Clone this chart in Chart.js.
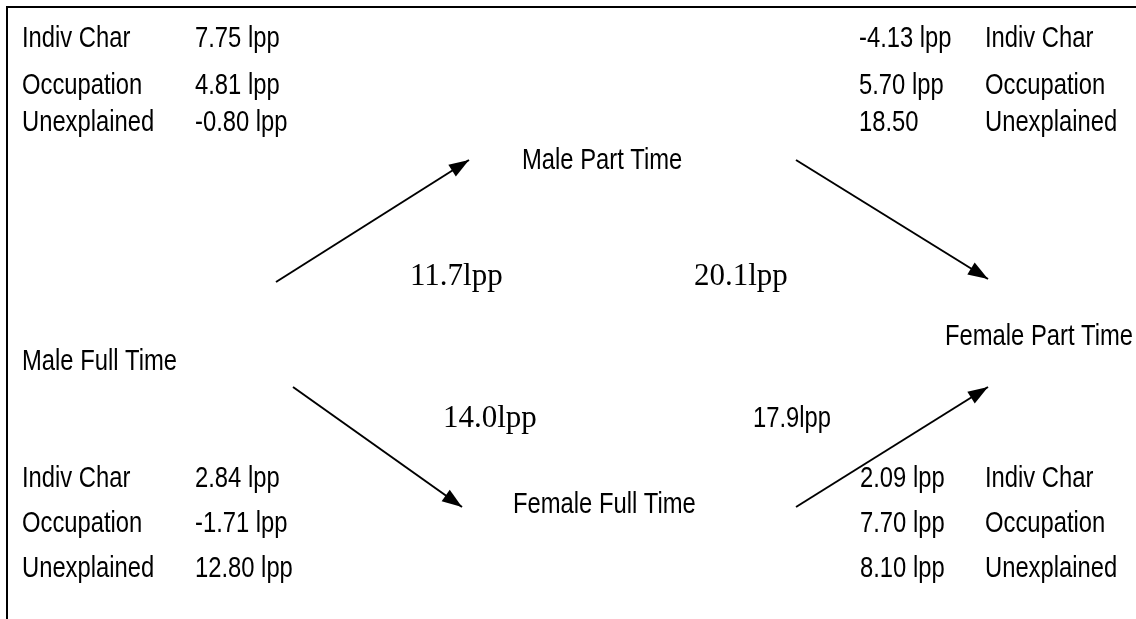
<!DOCTYPE html>
<html>
<head>
<meta charset="utf-8">
<script src="https://cdn.jsdelivr.net/npm/chart.js@4/dist/chart.umd.min.js"></script>
<style>
  html, body { margin: 0; padding: 0; background: #fff; }
  #wrap { width: 1136px; height: 619px; position: relative; }
</style>
</head>
<body>
<div id="wrap"><canvas id="myChart"></canvas></div>
<script>
// decomposition of the gap along each path
const components = ['Indiv Char', 'Occupation', 'Unexplained'];
const mftToMpt = ['7.75 lpp', '4.81 lpp', '-0.80 lpp'];
const mptToFpt = ['-4.13 lpp', '5.70 lpp', '18.50'];
const mftToFft = ['2.84 lpp', '-1.71 lpp', '12.80 lpp'];
const fftToFpt = ['2.09 lpp', '7.70 lpp', '8.10 lpp'];

const nodes = ['Male Full Time', 'Male Part Time', 'Female Full Time', 'Female Part Time'];
const gaps = ['11.7lpp', '20.1lpp', '14.0lpp', '17.9lpp'];

// layout, in a 1136 x 619 coordinate space
const nodePos = [[22, 370], [522, 169], [513, 513], [945, 345]];
const gapPos = [[410, 285], [694, 285], [443, 427], [753, 427]];
const gapSerif = [true, true, true, false];
const arrowFrom = [[276, 282], [293, 387], [796, 160], [796, 507]];
const arrowTo = [[469, 160], [462, 507], [988, 279], [988, 387]];
const frame = [[7, 619], [7, 7], [1136, 7]];

// tables: [component column x, value column x, row baselines, values]
const tables = [
    { labelX: 22, valueX: 195, rows: [47, 94, 131], values: mftToMpt },
    { labelX: 985, valueX: 859, rows: [47, 94, 131], values: mptToFpt },
    { labelX: 22, valueX: 195, rows: [487, 532, 577], values: mftToFft },
    { labelX: 985, valueX: 860, rows: [487, 532, 577], values: fftToFpt },
];

const toPts = arr => arr.map(p => ({ x: p[0], y: p[1] }));

const datasets = arrowFrom.map((f, i) => ({
    data: toPts([f, arrowTo[i]]),
    showLine: true,
    borderColor: '#000',
    borderWidth: 2,
    pointRadius: 0,
    fill: false,
}));
datasets.push({
    data: toPts(frame),
    showLine: true,
    borderColor: '#000',
    borderWidth: 2,
    pointRadius: 0,
    fill: false,
});

const SANS = '29px "Liberation Sans", Arial, sans-serif';
const SERIF = '31px "Liberation Serif", "Times New Roman", serif';

function sansText(ctx, text, x, y) {
    ctx.save();
    ctx.font = SANS;
    ctx.translate(x, y);
    ctx.scale(0.82, 1);
    ctx.fillText(text, 0, 0);
    ctx.restore();
}

const diagramPlugin = {
    id: 'diagram',
    afterDatasetsDraw(chart) {
        const ctx = chart.ctx;
        const sx = chart.scales.x, sy = chart.scales.y;
        const px = v => sx.getPixelForValue(v);
        const py = v => sy.getPixelForValue(v);

        ctx.save();
        ctx.fillStyle = '#000';
        ctx.textBaseline = 'alphabetic';
        ctx.textAlign = 'left';

        // arrow heads
        arrowFrom.forEach((f, i) => {
            const x0 = px(f[0]), y0 = py(f[1]);
            const x1 = px(arrowTo[i][0]), y1 = py(arrowTo[i][1]);
            const a = Math.atan2(y1 - y0, x1 - x0);
            const len = 20, half = 7;
            const bx = x1 - len * Math.cos(a), by = y1 - len * Math.sin(a);
            ctx.beginPath();
            ctx.moveTo(x1, y1);
            ctx.lineTo(bx + half * Math.sin(a), by - half * Math.cos(a));
            ctx.lineTo(bx - half * Math.sin(a), by + half * Math.cos(a));
            ctx.closePath();
            ctx.fill();
        });

        nodes.forEach((n, i) => sansText(ctx, n, px(nodePos[i][0]), py(nodePos[i][1])));

        gaps.forEach((g, i) => {
            if (gapSerif[i]) {
                ctx.font = SERIF;
                ctx.fillText(g, px(gapPos[i][0]), py(gapPos[i][1]));
            } else {
                sansText(ctx, g, px(gapPos[i][0]), py(gapPos[i][1]));
            }
        });

        tables.forEach(t => {
            t.rows.forEach((ry, r) => {
                sansText(ctx, components[r], px(t.labelX), py(ry));
                sansText(ctx, t.values[r], px(t.valueX), py(ry));
            });
        });
        ctx.restore();
    }
};

const ctx = document.getElementById('myChart').getContext('2d');
const myChart = new Chart(ctx, {
    type: 'scatter',
    data: { datasets: datasets },
    options: {
        responsive: true,
        maintainAspectRatio: false,
        animation: false,
        layout: { padding: 0 },
        plugins: { legend: { display: false }, tooltip: { enabled: false } },
        scales: {
            x: { type: 'linear', min: 0, max: 1136, display: false },
            y: { type: 'linear', min: 0, max: 619, reverse: true, display: false },
        },
    },
    plugins: [diagramPlugin],
});
</script>
</body>
</html>
